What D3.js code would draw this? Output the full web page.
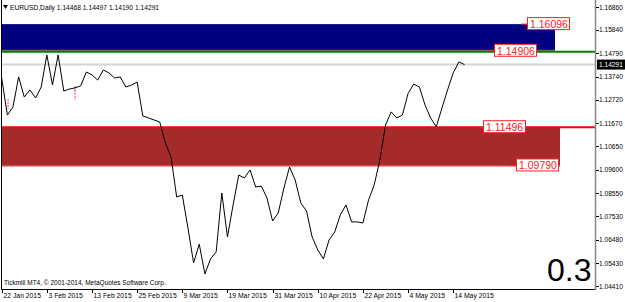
<!DOCTYPE html>
<html>
<head>
<meta charset="utf-8">
<script src="https://cdn.jsdelivr.net/npm/d3@7.9.0/dist/d3.min.js"></script>
<style>
  body { margin: 0; background: #fff; }
  svg { display: block; font-family: "Liberation Sans", Arial, sans-serif; }
</style>
</head>
<body>
<svg id="chart" width="625" height="302"></svg>
<script>
// daily closes, 22 Jan 2015 .. 18 May 2015 (one per trading day)
const closes = [
  1.1369, 1.1204, 1.1240, 1.1374, 1.1284, 1.1316, 1.1280, 1.1329, 1.1472, 1.1338,
  1.1472, 1.1311, 1.1320, 1.1325, 1.1334, 1.1396, 1.1383, 1.1360, 1.1405, 1.1392,
  1.1369, 1.1374, 1.1329, 1.1338, 1.1351, 1.1200, 1.1191, 1.1182, 1.1173, 1.1079,
  1.1017, 1.0838, 1.0847, 1.0700, 1.0544, 1.0628, 1.0495, 1.0562, 1.0593, 1.0856,
  1.0660, 1.0803, 1.0936, 1.0923, 1.0959, 1.0883, 1.0887, 1.0834, 1.0731, 1.0767,
  1.0878, 1.0972, 1.0914, 1.0811, 1.0776, 1.0660, 1.0602, 1.0562, 1.0646, 1.0682,
  1.0758, 1.0803, 1.0727, 1.0727, 1.0722, 1.0825, 1.0892, 1.1003, 1.1159, 1.1218,
  1.1191, 1.1204, 1.1300, 1.1342, 1.1329, 1.1249, 1.1191, 1.1151, 1.1235, 1.1316,
  1.1392, 1.1441, 1.14291
];

const dateLabels = ['22 Jan 2015', '3 Feb 2015', '13 Feb 2015', '25 Feb 2015', '9 Mar 2015',
  '19 Mar 2015', '31 Mar 2015', '10 Apr 2015', '22 Apr 2015', '4 May 2015', '14 May 2015'];
const dateIndex = [0, 8, 16, 24, 32, 40, 48, 56, 64, 72, 80];

const priceTicks = [1.16860, 1.15840, 1.14790, 1.13740, 1.12720, 1.11670, 1.10650,
  1.09600, 1.08550, 1.07530, 1.06480, 1.05430, 1.04410];

const ohlc = [1.14468, 1.14497, 1.14190, 1.14291];
const supplyZone = [1.16096, 1.14906];
const demandZone = [1.11496, 1.09790];
const lastPrice = 1.14291;

const svg = d3.select('#chart');
const axisX = 595, axisY = 289;

const x = d3.scaleLinear().domain([0, 82]).range([1.7, 464.5]);
const y = d3.scaleLinear().domain([1.04410, 1.16860]).range([286, 7]);

// zones
svg.append('rect')
  .attr('x', 2).attr('y', y(supplyZone[0]))
  .attr('width', 553).attr('height', y(supplyZone[1]) - y(supplyZone[0]))
  .attr('fill', '#000080');
svg.append('rect')
  .attr('x', 2).attr('y', y(demandZone[0]))
  .attr('width', 558).attr('height', y(demandZone[1]) - y(demandZone[0]))
  .attr('fill', '#a52a2a');
svg.append('line')
  .attr('x1', 2).attr('x2', 560)
  .attr('y1', y(demandZone[1]) + 0.5).attr('y2', y(demandZone[1]) + 0.5)
  .attr('stroke', '#d01010').attr('stroke-width', 1);

// horizontal levels
svg.append('line')
  .attr('x1', 2).attr('x2', axisX).attr('y1', y(lastPrice)).attr('y2', y(lastPrice))
  .attr('stroke', '#d4d4d4').attr('stroke-width', 2);
svg.append('line')
  .attr('x1', 2).attr('x2', 555).attr('y1', y(supplyZone[1]) - 0.5).attr('y2', y(supplyZone[1]) - 0.5)
  .attr('stroke', '#b07830').attr('stroke-width', 1);
svg.append('line')
  .attr('x1', 2).attr('x2', axisX).attr('y1', y(supplyZone[1]) + 1).attr('y2', y(supplyZone[1]) + 1)
  .attr('stroke', '#008000').attr('stroke-width', 2);
svg.append('line')
  .attr('x1', 2).attr('x2', axisX).attr('y1', y(demandZone[0])).attr('y2', y(demandZone[0]))
  .attr('stroke', '#ff0000').attr('stroke-width', 2);

// small trade markers
svg.append('line')
  .attr('x1', x(1) + 0.7).attr('x2', x(1) + 0.7).attr('y1', 99).attr('y2', 109)
  .attr('stroke', '#ff4040').attr('stroke-dasharray', '2,1');
svg.append('line')
  .attr('x1', x(13)).attr('x2', x(13)).attr('y1', 86).attr('y2', 90)
  .attr('stroke', '#3050ff').attr('stroke-dasharray', '2,1');
svg.append('line')
  .attr('x1', x(13)).attr('x2', x(13)).attr('y1', 90).attr('y2', 100)
  .attr('stroke', '#ff4040').attr('stroke-dasharray', '2,1');

// price line
const line = d3.line().x((d, i) => x(i)).y(d => y(d));
svg.append('path')
  .datum(closes)
  .attr('d', line)
  .attr('fill', 'none')
  .attr('stroke', '#000')
  .attr('stroke-width', 1);

// price tags on the zones
function tag(value, left, lineFrom) {
  const cy = y(value);
  svg.append('line')
    .attr('x1', lineFrom).attr('x2', left).attr('y1', cy).attr('y2', cy)
    .attr('stroke', '#ff2020');
  svg.append('rect')
    .attr('x', left + 0.5).attr('y', cy - 6.5)
    .attr('width', 42).attr('height', 12)
    .attr('fill', '#fff').attr('stroke', '#ff2020');
  svg.append('text')
    .attr('x', left + 3).attr('y', cy + 4)
    .attr('font-size', 10.5).attr('fill', '#ff2020')
    .text(value.toFixed(5));
}
tag(supplyZone[0], 527, 521);
tag(supplyZone[1], 494, 488);
tag(demandZone[0], 483, 478);
tag(demandZone[1], 516, 510);

// frame
svg.append('line').attr('x1', 1.5).attr('x2', 1.5).attr('y1', 0).attr('y2', axisY)
  .attr('stroke', '#000');
svg.append('line').attr('x1', 1).attr('x2', axisX).attr('y1', axisY + 0.5).attr('y2', axisY + 0.5)
  .attr('stroke', '#000');
svg.append('line').attr('x1', axisX + 0.5).attr('x2', axisX + 0.5).attr('y1', 0).attr('y2', axisY + 1)
  .attr('stroke', '#888').attr('stroke-width', 1.5);

// right price axis
const yAxis = svg.append('g');
priceTicks.forEach(v => {
  yAxis.append('line')
    .attr('x1', axisX + 1).attr('x2', axisX + 4)
    .attr('y1', Math.round(y(v)) + 0.5).attr('y2', Math.round(y(v)) + 0.5)
    .attr('stroke', '#000');
  yAxis.append('text')
    .attr('x', 599).attr('y', y(v) + 2.5)
    .attr('font-size', 6.6).attr('fill', '#000')
    .text(v.toFixed(5));
});
yAxis.append('rect')
  .attr('x', 597).attr('y', y(lastPrice) - 5)
  .attr('width', 28).attr('height', 10).attr('fill', '#000');
yAxis.append('text')
  .attr('x', 599).attr('y', y(lastPrice) + 2.5)
  .attr('font-size', 6.6).attr('fill', '#fff')
  .text(lastPrice.toFixed(5));

// bottom date axis
dateLabels.forEach((label, k) => {
  const px = Math.round(x(dateIndex[k])) + 0.5;
  svg.append('line')
    .attr('x1', px).attr('x2', px).attr('y1', axisY + 1).attr('y2', axisY + 4)
    .attr('stroke', '#000');
  svg.append('text')
    .attr('x', px + 1).attr('y', 298)
    .attr('font-size', 6.8).attr('fill', '#000')
    .text(label);
});

// header and footer texts
svg.append('path')
  .attr('d', 'M3,5 L8,5 L5.5,9 Z').attr('fill', '#000');
svg.append('text')
  .attr('x', 10).attr('y', 10)
  .attr('font-size', 6.7).attr('fill', '#000')
  .text('EURUSD,Daily  ' + ohlc.map(v => v.toFixed(5)).join(' '));
svg.append('text')
  .attr('x', 4).attr('y', 285)
  .attr('font-size', 6.5).attr('fill', '#000')
  .text('Tickmill MT4, © 2001-2014, MetaQuotes Software Corp.');
svg.append('text')
  .attr('x', 547).attr('y', 281)
  .attr('font-size', 32).attr('fill', '#000')
  .text('0.3');
</script>
</body>
</html>
